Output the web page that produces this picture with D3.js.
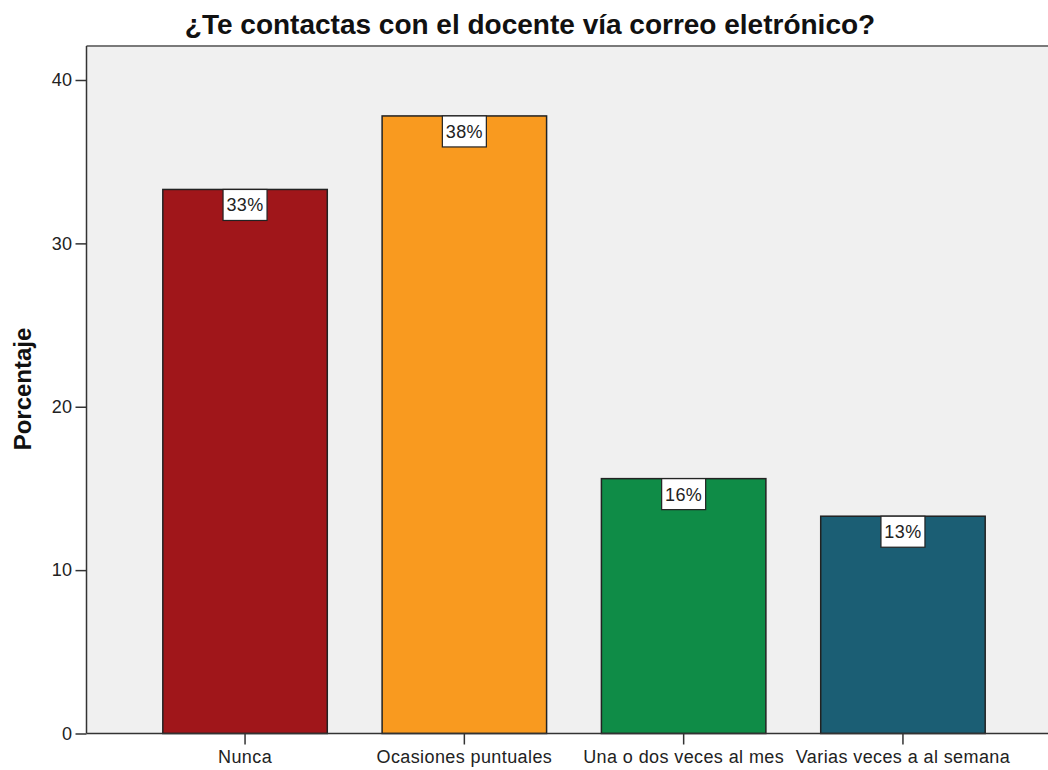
<!DOCTYPE html>
<html>
<head>
<meta charset="utf-8">
<script src="https://cdn.jsdelivr.net/npm/d3@7/dist/d3.min.js"></script>
<style>
  html, body { margin: 0; padding: 0; background: #fff; }
  svg { display: block; font-family: "Liberation Sans", Arial, sans-serif; }
</style>
</head>
<body>
<svg id="chart" width="1048" height="770"></svg>
<script>
// Survey answers: share of respondents per frequency of e-mail contact
const categories = ["Nunca", "Ocasiones puntuales", "Una o dos veces al mes", "Varias veces a al semana"];
const percentages = [33.3, 37.8, 15.6, 13.3];
const barColors = ["#a0161a", "#f99a1f", "#0f8c47", "#1b5e74"];
const yTicks = [0, 10, 20, 30, 40];
const titleText = "¿Te contactas con el docente vía correo eletrónico?";
const yLabel = "Porcentaje";

const svg = d3.select("#chart");
const W = 1048, H = 770;
const plot = { left: 86.5, top: 46, right: 1060, bottom: 733.5 };
const labelFont = 18, labelSpacing = "0.4px";

const y = d3.scaleLinear().domain([0, 40]).range([plot.bottom, 80]);
const x = d3.scaleBand().domain(categories).range([135.4, 1012.6]).paddingInner(0.25).paddingOuter(0.125);

// plot background
svg.append("rect")
  .attr("x", plot.left).attr("y", plot.top)
  .attr("width", plot.right - plot.left).attr("height", plot.bottom - plot.top)
  .attr("fill", "#f0f0f0");
svg.append("line")
  .attr("x1", plot.left).attr("x2", W).attr("y1", plot.top).attr("y2", plot.top)
  .attr("stroke", "#7a7a7a").attr("stroke-width", 2);

// bars
svg.append("g").selectAll("rect")
  .data(categories)
  .join("rect")
  .attr("x", d => x(d))
  .attr("width", x.bandwidth())
  .attr("y", (d, i) => y(percentages[i]))
  .attr("height", (d, i) => y(0) - y(percentages[i]))
  .attr("fill", (d, i) => barColors[i])
  .attr("stroke", "#222")
  .attr("stroke-width", 1.5);

// value labels
const lab = svg.append("g").selectAll("g")
  .data(categories)
  .join("g")
  .attr("transform", (d, i) => `translate(${x(d) + x.bandwidth() / 2},${y(percentages[i])})`);
lab.append("rect")
  .attr("x", -22).attr("y", 0).attr("width", 44).attr("height", 31)
  .attr("fill", "#fff").attr("stroke", "#222").attr("stroke-width", 1.2);
lab.append("text")
  .attr("x", 0).attr("y", 22)
  .attr("text-anchor", "middle")
  .attr("font-size", labelFont)
  .attr("letter-spacing", labelSpacing)
  .attr("fill", "#222")
  .text((d, i) => Math.round(percentages[i]) + "%");

// y axis
const yAxis = svg.append("g")
  .attr("transform", `translate(${plot.left},0)`)
  .call(d3.axisLeft(y).tickValues(yTicks).tickSize(11).tickPadding(3));
yAxis.select(".domain").attr("d", `M0,${plot.top}V${plot.bottom}`).attr("stroke", "#333").attr("stroke-width", 1.5);
yAxis.selectAll(".tick line").attr("stroke", "#333").attr("stroke-width", 1.5);
yAxis.selectAll(".tick text").attr("font-size", labelFont).attr("letter-spacing", labelSpacing)
  .attr("fill", "#222").attr("font-family", "Liberation Sans, Arial, sans-serif");

// x axis
const xAxis = svg.append("g")
  .attr("transform", `translate(0,${plot.bottom})`)
  .call(d3.axisBottom(x).tickSize(11).tickPadding(6));
xAxis.select(".domain").attr("d", `M${plot.left},0H${W}`).attr("stroke", "#333").attr("stroke-width", 1.5);
xAxis.selectAll(".tick line").attr("stroke", "#333").attr("stroke-width", 1.5);
xAxis.selectAll(".tick text").attr("font-size", labelFont).attr("letter-spacing", labelSpacing)
  .attr("fill", "#222").attr("font-family", "Liberation Sans, Arial, sans-serif");

// title
svg.append("text")
  .attr("x", 530).attr("y", 34)
  .attr("text-anchor", "middle")
  .attr("font-size", 28).attr("font-weight", "bold").attr("fill", "#111")
  .text(titleText);

// y label
svg.append("text")
  .attr("transform", `translate(31,389) rotate(-90)`)
  .attr("text-anchor", "middle")
  .attr("font-size", 24).attr("font-weight", "bold").attr("fill", "#111")
  .text(yLabel);
</script>
</body>
</html>
